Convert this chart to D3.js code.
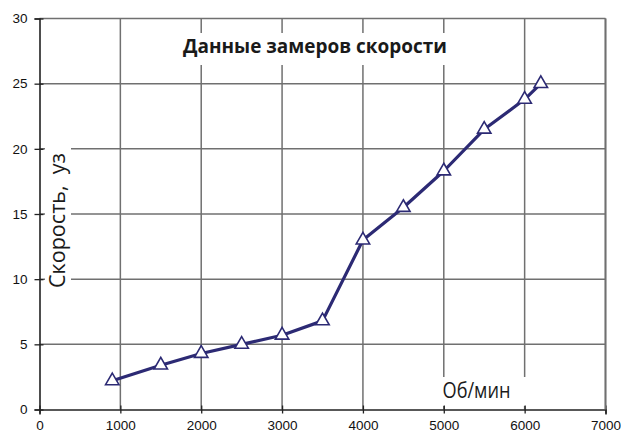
<!DOCTYPE html>
<html>
<head>
<meta charset="utf-8">
<script src="https://cdn.jsdelivr.net/npm/d3@7"></script>
<style>
    body { margin: 0; background: #fff; }
    #chart-area { width: 621px; height: 433px; }
</style>
</head>
<body>
<div id="chart-area"></div>
<script>
// data
const rpm = [900, 1500, 2000, 2500, 3000, 3500, 4000, 4500, 5000, 5500, 6000, 6200];
const speed = [2.2, 3.4, 4.3, 5.0, 5.7, 6.8, 13.0, 15.5, 18.3, 21.5, 23.8, 25.0];
const xTicks = [0, 1000, 2000, 3000, 4000, 5000, 6000, 7000];
const yTicks = [0, 5, 10, 15, 20, 25, 30];
const chartTitle = "Данные замеров скорости";
const xTitle = "Об/мин";
const yTitle = "Скорость,\u00A0 уз";

class SpeedVis {
    constructor(parentElement) {
        this.parentElement = parentElement;
        this.initVis();
    }

    initVis() {
        let vis = this;

        vis.margin = { top: 18.5, right: 15.5, bottom: 23.5, left: 39.5 };
        vis.width = 621 - vis.margin.left - vis.margin.right;
        vis.height = 433 - vis.margin.top - vis.margin.bottom;

        vis.svg = d3.select(`#${vis.parentElement}`).append("svg")
            .attr("width", 621)
            .attr("height", 433)
            .append("g")
            .attr("transform", `translate(${vis.margin.left}, ${vis.margin.top})`);

        vis.x = d3.scaleLinear().domain([0, 7000]).range([0, vis.width]);
        vis.y = d3.scaleLinear().domain([0, 30]).range([vis.height, 0]);

        vis.data = rpm.map((r, i) => ({ rpm: r, speed: speed[i] }));

        vis.drawVis();
    }

    drawVis() {
        let vis = this;
        const grid = "#707070";
        const navy = "#2c2a74";

        // grid lines
        vis.svg.selectAll(".hgrid")
            .data(yTicks.filter(d => d > 0))
            .enter().append("line")
            .attr("x1", 0).attr("x2", vis.width)
            .attr("y1", d => vis.y(d)).attr("y2", d => vis.y(d))
            .attr("stroke", grid).attr("stroke-width", 1.5);

        vis.svg.selectAll(".vgrid")
            .data(xTicks.filter(d => d > 0))
            .enter().append("line")
            .attr("x1", d => vis.x(d)).attr("x2", d => vis.x(d))
            .attr("y1", 0).attr("y2", vis.height)
            .attr("stroke", grid).attr("stroke-width", 1.5);

        // white boxes behind the titles
        vis.svg.append("rect")
            .attr("x", 178 - vis.margin.left).attr("y", 33 - vis.margin.top)
            .attr("width", 276).attr("height", 32)
            .attr("fill", "#fff");
        vis.svg.append("rect")
            .attr("x", 45 - vis.margin.left).attr("y", 145 - vis.margin.top)
            .attr("width", 26).attr("height", 148)
            .attr("fill", "#fff");
        vis.svg.append("rect")
            .attr("x", 437 - vis.margin.left).attr("y", 377 - vis.margin.top)
            .attr("width", 93).attr("height", 29)
            .attr("fill", "#fff");

        // axes
        let xAxis = vis.svg.append("g")
            .attr("transform", `translate(0,${vis.height})`)
            .call(d3.axisBottom(vis.x).tickValues(xTicks).tickFormat(d3.format("d")).tickSize(5));
        xAxis.selectAll(".tick line").attr("y1", -4).attr("y2", 4).attr("stroke", "#222").attr("stroke-width", 1.3);
        xAxis.selectAll("text").attr("y", 10.5).attr("dy", "0.71em")
            .style("font-family", "'Liberation Sans', Arial, sans-serif")
            .style("font-size", "13.5px").attr("fill", "#111");
        xAxis.select(".domain").attr("stroke", "#222").attr("stroke-width", 1.6);

        let yAxis = vis.svg.append("g")
            .call(d3.axisLeft(vis.y).tickValues(yTicks).tickSize(5));
        yAxis.selectAll(".tick line").attr("x1", -5).attr("x2", 4).attr("stroke", "#222").attr("stroke-width", 1.3);
        yAxis.selectAll("text").attr("x", -12)
            .style("font-family", "'Liberation Sans', Arial, sans-serif")
            .style("font-size", "13.5px").attr("fill", "#111");
        yAxis.select(".domain").attr("stroke", "#222").attr("stroke-width", 1.6);

        // right border
        vis.svg.append("line")
            .attr("x1", vis.width).attr("x2", vis.width)
            .attr("y1", 0).attr("y2", vis.height)
            .attr("stroke", grid).attr("stroke-width", 1.8);

        // titles
        vis.svg.append("text")
            .attr("x", 183 - vis.margin.left).attr("y", 53 - vis.margin.top)
            .attr("textLength", 264).attr("lengthAdjust", "spacingAndGlyphs")
            .style("font-family", "'Open Sans', sans-serif")
            .style("font-weight", "bold").style("font-size", "20px")
            .attr("fill", "#1a1a1a")
            .text(chartTitle);

        vis.svg.append("text")
            .attr("x", 442.5 - vis.margin.left).attr("y", 398 - vis.margin.top)
            .attr("textLength", 68).attr("lengthAdjust", "spacingAndGlyphs")
            .style("font-family", "'Open Sans', sans-serif")
            .style("font-size", "21px")
            .attr("fill", "#1a1a1a")
            .text(xTitle);

        vis.svg.append("text")
            .attr("transform", `translate(${65 - vis.margin.left}, ${288 - vis.margin.top}) rotate(-90)`)
            .attr("textLength", 135).attr("lengthAdjust", "spacingAndGlyphs")
            .style("font-family", "'Open Sans', sans-serif")
            .style("font-size", "21px")
            .attr("fill", "#1a1a1a")
            .text(yTitle);

        // series line
        let line = d3.line()
            .x(d => vis.x(d.rpm))
            .y(d => vis.y(d.speed));

        vis.svg.append("path")
            .datum(vis.data)
            .attr("d", line)
            .attr("fill", "none")
            .attr("stroke", navy)
            .attr("stroke-width", 3.2)
            .attr("stroke-linejoin", "round");

        // triangle markers
        vis.svg.selectAll(".marker")
            .data(vis.data)
            .enter()
            .append("path")
            .attr("class", "marker")
            .attr("d", d3.symbol().type(d3.symbolTriangle).size(78))
            .attr("transform", d => `translate(${vis.x(d.rpm)},${vis.y(d.speed)})`)
            .attr("fill", "#fff")
            .attr("stroke", navy)
            .attr("stroke-width", 1.6);
    }
}

new SpeedVis("chart-area");
</script>
</body>
</html>
